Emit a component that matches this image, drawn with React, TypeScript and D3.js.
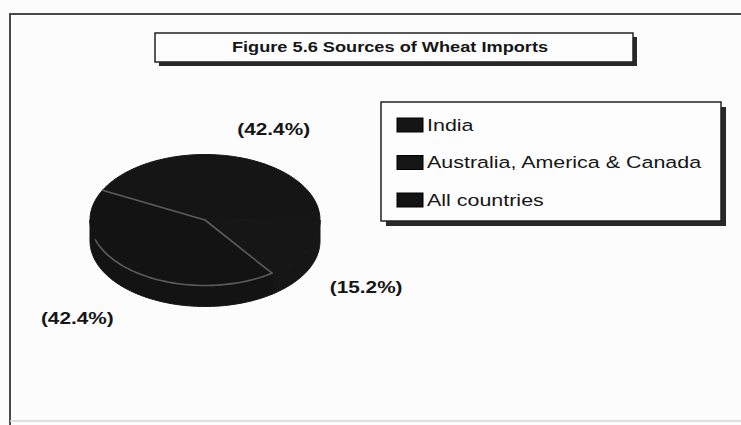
import React from "react";
import * as d3 from "d3";

// Chart data
const title = "Figure 5.6 Sources of Wheat Imports";
const categories = ["India", "Australia, America & Canada", "All countries"];
const shares = [42.4, 15.2, 42.4];
const sliceColors = ["#151515", "#161616", "#131313"];

// Layout
const W = 741;
const H = 425;
const STRETCH = 1.3; // text is set wide
const FONT = "'Liberation Sans', Arial, Helvetica, sans-serif";
const cx = 205;
const cy = 220;
const rx = 115;
const ry = 65.5;
const depth = 21;
const startDeg = 297;

const rad = (deg: number) => (deg * Math.PI) / 180;

function pt(a: number, off = 0): [number, number] {
  return [cx + rx * Math.sin(a), cy - ry * Math.cos(a) + off];
}

function arcPoints(a0: number, a1: number, off = 0): [number, number][] {
  const n = Math.max(2, Math.ceil((Math.abs(a1 - a0) / Math.PI) * 90));
  return d3.range(n + 1).map((i) => pt(a0 + ((a1 - a0) * i) / n, off));
}

const line = d3.line<[number, number]>();

// front-facing part of a slice's side wall (where cos(angle) < 0)
function wallSegments(a0: number, a1: number): [number, number][] {
  const segs: [number, number][] = [];
  for (let k = 0; k < 3; k++) {
    const lo = Math.PI / 2 + 2 * Math.PI * k;
    const hi = (3 * Math.PI) / 2 + 2 * Math.PI * k;
    const s = Math.max(a0, lo);
    const e = Math.min(a1, hi);
    if (e > s) segs.push([s, e]);
  }
  return segs;
}

function WideText(props: {
  x: number;
  y: number;
  size: number;
  weight?: string | number;
  anchor?: string;
  dy?: string;
  children: React.ReactNode;
}) {
  const { x, y, size, weight = "normal", anchor = "start", dy, children } = props;
  return (
    <text
      transform={`translate(${x},${y}) scale(${STRETCH},1)`}
      fontFamily={FONT}
      fontSize={size}
      fontWeight={weight}
      textAnchor={anchor}
      dy={dy}
      fill="#161616"
    >
      {children}
    </text>
  );
}

export default function App() {
  const arcs = d3
    .pie<number>()
    .sort(null)
    .startAngle(rad(startDeg))
    .endAngle(rad(startDeg) + 2 * Math.PI)(shares);

  const allSlice = arcs[2];

  // legend geometry
  const lg = { x: 381, y: 102, w: 340, h: 119 };
  const rowY = d3
    .scalePoint<number>()
    .domain(d3.range(categories.length))
    .range([lg.y + 23, lg.y + 98]);

  const tb = { x: 155, y: 33, w: 478, h: 29 };

  return (
    <svg
      width={W}
      height={H}
      viewBox={`0 0 ${W} ${H}`}
      style={{ position: "fixed", left: 0, top: 0, background: "#fcfcfc" }}
    >
      <rect x={0} y={0} width={W} height={H} fill="#fcfcfc" />

      {/* outer chart frame */}
      <path d={`M10,${H + 20} V14 H${W + 20}`} fill="none" stroke="#4a4a4a" strokeWidth={2} />
      <line x1={10} x2={W} y1={421} y2={421} stroke="#d6d6d6" strokeWidth={1.5} />

      {/* title box */}
      <rect x={tb.x + 4} y={tb.y + 4} width={tb.w} height={tb.h} fill="#2a2a2a" />
      <rect x={tb.x} y={tb.y} width={tb.w} height={tb.h} fill="#fdfdfd" stroke="#222" strokeWidth={1.5} />
      <WideText x={390} y={52} size={14} weight="bold" anchor="middle">
        {title}
      </WideText>

      {/* pie side walls */}
      {arcs.map((d, i) =>
        wallSegments(d.startAngle, d.endAngle).map(([s, e], j) => {
          const top = arcPoints(s, e, 0);
          const bottom = arcPoints(e, s, depth);
          return (
            <path
              key={`w${i}-${j}`}
              d={line([...top, ...bottom]) + "Z"}
              fill={sliceColors[i]}
              stroke={sliceColors[i]}
              strokeWidth={1}
            />
          );
        })
      )}

      {/* pie top faces */}
      {arcs.map((d, i) => (
        <path
          key={`t${i}`}
          d={line([[cx, cy], ...arcPoints(d.startAngle, d.endAngle, 0)]) + "Z"}
          fill={sliceColors[i]}
          stroke={sliceColors[i]}
          strokeWidth={1}
        />
      ))}

      {/* edges of the "All countries" slice */}
      <g fill="none" stroke="#5c5c5c" strokeWidth={1.6} strokeLinecap="round">
        <path d={line([[cx, cy], pt(allSlice.startAngle)]) || ""} />
        <path d={line([[cx, cy], pt(allSlice.endAngle)]) || ""} />
        <path d={line(arcPoints(allSlice.startAngle, allSlice.startAngle + rad(108), 0)) || ""} />
      </g>

      {/* percentage labels */}
      {arcs.map((d, i) => {
        const mid = (d.startAngle + d.endAngle) / 2;
        const s = Math.sin(mid);
        const c = Math.cos(mid);
        const lx = cx + (rx + 25) * s;
        const ly = cy - c * (ry + (c < 0 ? 36 : 28)) + (c < 0 ? depth : 0);
        const anchor = s > 0.05 ? "start" : s < -0.05 ? "end" : "middle";
        return (
          <WideText key={`l${i}`} x={lx} y={ly} size={16} weight="bold" anchor={anchor} dy="0.35em">
            {`(${shares[i].toFixed(1)}%)`}
          </WideText>
        );
      })}

      {/* legend */}
      <rect x={lg.x + 5} y={lg.y + 5} width={lg.w} height={lg.h} fill="#2a2a2a" />
      <rect x={lg.x} y={lg.y} width={lg.w} height={lg.h} fill="#fdfdfd" stroke="#222" strokeWidth={1.5} />
      {categories.map((name, i) => {
        const y = rowY(i) as number;
        return (
          <g key={`g${i}`}>
            <rect x={397} y={y - 7} width={26} height={14} fill={sliceColors[i]} stroke="#000" strokeWidth={1} />
            <WideText x={427} y={y} size={16.5} dy="0.35em">
              {name}
            </WideText>
          </g>
        );
      })}
    </svg>
  );
}
